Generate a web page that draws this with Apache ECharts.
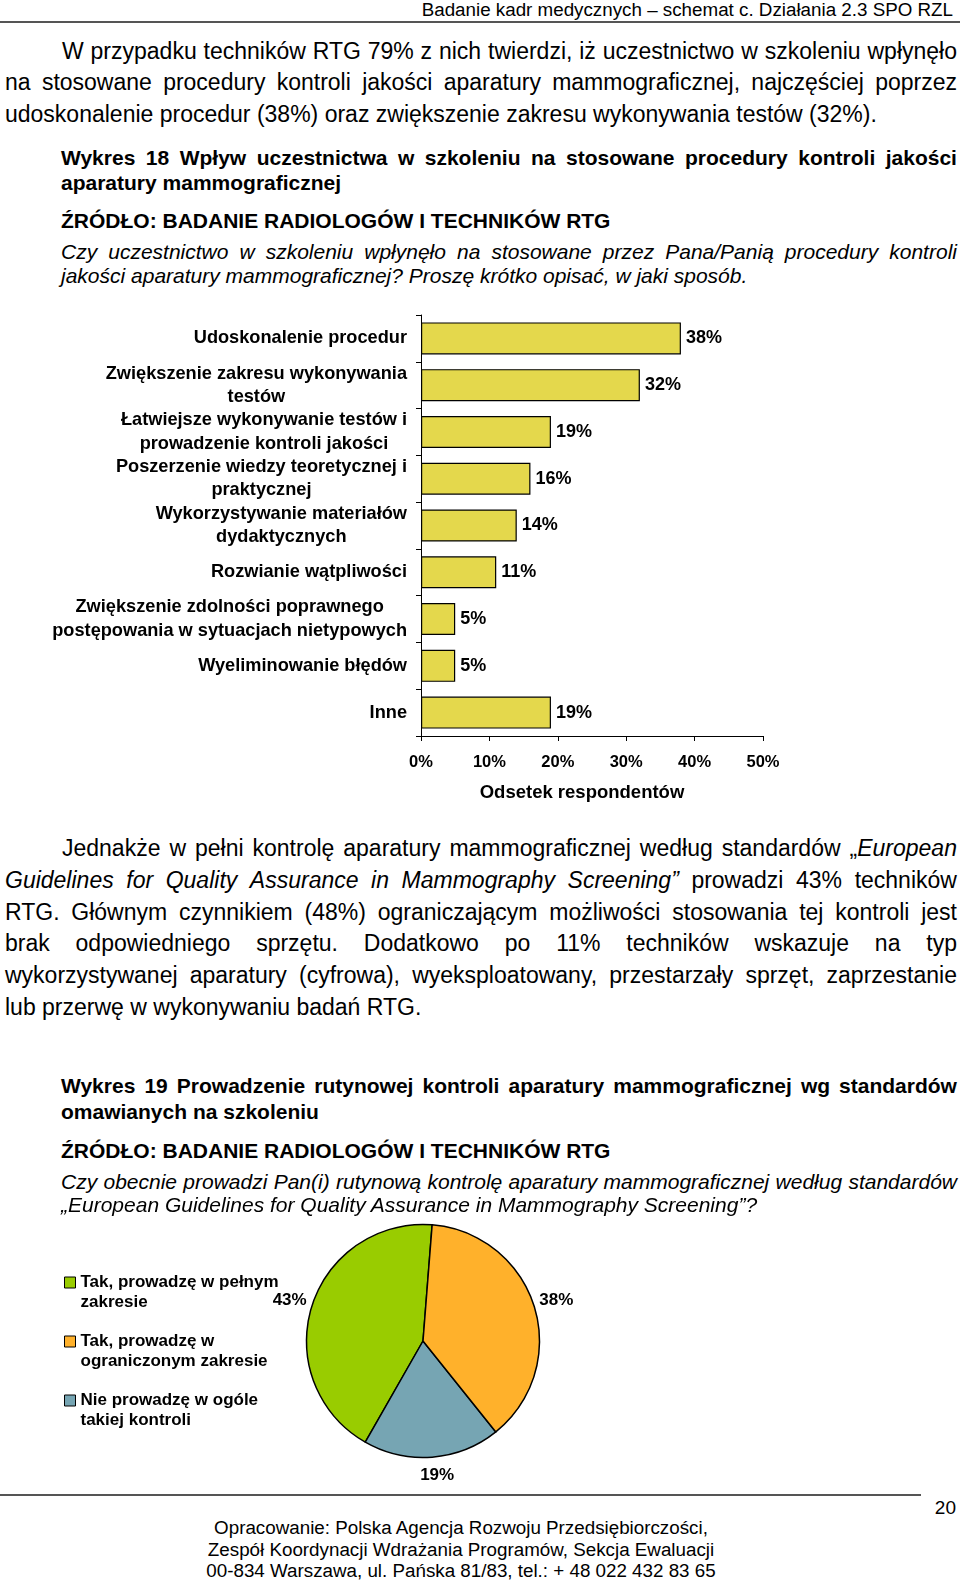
<!DOCTYPE html>
<html>
<head>
<meta charset="utf-8">
<script src="https://cdn.jsdelivr.net/npm/echarts@6/dist/echarts.min.js"></script>
<style>
body{margin:0;width:960px;height:1581px;position:relative;background:#fff;overflow:hidden;
  font-family:"Liberation Sans",Arial,sans-serif;color:#000}
.ln{position:absolute;white-space:nowrap}
.rule{position:absolute;height:2px;background:#555}
</style>
</head>
<body>
<div class="rule" style="left:0;top:21px;width:960px"></div>
<div class="rule" style="left:0;top:1494px;width:921px"></div>
<div id="bar" style="position:absolute;left:0;top:300px;width:960px;height:510px"></div>
<div id="pie" style="position:absolute;left:0;top:1215px;width:960px;height:275px"></div>
<script>
// Wykres 18 - dane
var barCats = [
  'Udoskonalenie procedur',
  'Zwiększenie zakresu wykonywania\ntestów',
  'Łatwiejsze wykonywanie testów i\nprowadzenie kontroli jakości',
  'Poszerzenie wiedzy teoretycznej i\npraktycznej',
  'Wykorzystywanie materiałów\ndydaktycznych',
  'Rozwianie wątpliwości',
  'Zwiększenie zdolności poprawnego\npostępowania w sytuacjach nietypowych',
  'Wyeliminowanie błędów',
  'Inne'
];
var barVals = [38, 32, 19, 16, 14, 11, 5, 5, 19];
var xTicks = [0, 10, 20, 30, 40, 50];

// Wykres 19 - dane (kolejnosc jak w legendzie)
var pieNames = ['Tak, prowadzę w pełnym\nzakresie', 'Tak, prowadzę w\nograniczonym zakresie', 'Nie prowadzę w ogóle\ntakiej kontroli'];
var pieVals = [43, 38, 19];
var pieColors = ['#99cc00', '#ffb12b', '#76a5b3'];
var pieOrder = [0, 2, 1]; // kolejnosc rysowania wycinkow (przeciwnie do wskazowek)

var FONT = '"Liberation Sans", Arial, sans-serif';

// teksty strony: y = srodek linii, j = wyjustowana
var lines = [
  {y:10, r:953, s:18.8, t:'Badanie kadr medycznych – schemat c. Działania 2.3 SPO RZL'},

  {y:50.5, x:62, w:895, s:23, j:1, t:'W przypadku techników RTG 79% z nich twierdzi, iż uczestnictwo w szkoleniu wpłynęło'},
  {y:82, x:5, w:952, s:23, j:1, t:'na stosowane procedury kontroli jakości aparatury mammograficznej, najczęściej poprzez'},
  {y:113.7, x:5, s:23, t:'udoskonalenie procedur (38%) oraz zwiększenie zakresu wykonywania testów (32%).'},

  {y:157, x:61, w:896, s:21, b:1, j:1, t:'Wykres 18 Wpływ uczestnictwa w szkoleniu na stosowane procedury kontroli jakości'},
  {y:182, x:61, s:21, b:1, t:'aparatury mammograficznej'},
  {y:220, x:61, s:21, b:1, t:'ŹRÓDŁO: BADANIE RADIOLOGÓW I TECHNIKÓW RTG'},
  {y:251.5, x:61, w:896, s:21, i:1, j:1, t:'Czy uczestnictwo w szkoleniu wpłynęło na stosowane przez Pana/Panią procedury kontroli'},
  {y:275, x:61, s:21, i:1, t:'jakości aparatury mammograficznej? Proszę krótko opisać, w jaki sposób.'},

  {y:848, x:62, w:895, s:23, j:1, t:'Jednakże w pełni kontrolę aparatury mammograficznej według standardów „{European}'},
  {y:880, x:5, w:952, s:23, j:1, t:'{Guidelines for Quality Assurance in Mammography Screening”} prowadzi 43% techników'},
  {y:911.5, x:5, w:952, s:23, j:1, t:'RTG. Głównym czynnikiem (48%) ograniczającym możliwości stosowania tej kontroli jest'},
  {y:943, x:5, w:952, s:23, j:1, t:'brak odpowiedniego sprzętu. Dodatkowo po 11% techników wskazuje na typ'},
  {y:975, x:5, w:952, s:23, j:1, t:'wykorzystywanej aparatury (cyfrowa), wyeksploatowany, przestarzały sprzęt, zaprzestanie'},
  {y:1006.5, x:5, s:23, t:'lub przerwę w wykonywaniu badań RTG.'},

  {y:1085.5, x:61, w:896, s:21, b:1, j:1, t:'Wykres 19 Prowadzenie rutynowej kontroli aparatury mammograficznej wg standardów'},
  {y:1111, x:61, s:21, b:1, t:'omawianych na szkoleniu'},
  {y:1150, x:61, s:21, b:1, t:'ŹRÓDŁO: BADANIE RADIOLOGÓW I TECHNIKÓW RTG'},
  {y:1181, x:61, w:896, s:21, i:1, j:1, t:'Czy obecnie prowadzi Pan(i) rutynową kontrolę aparatury mammograficznej według standardów'},
  {y:1204.5, x:61, s:21, i:1, t:'„European Guidelines for Quality Assurance in Mammography Screening”?'},

  {y:1507, r:956, s:19, t:'20'},
  {y:1528, c:461, s:18.8, t:'Opracowanie: Polska Agencja Rozwoju Przedsiębiorczości,'},
  {y:1550, c:461, s:18.8, t:'Zespół Koordynacji Wdrażania Programów, Sekcja Ewaluacji'},
  {y:1571, c:461, s:18.8, t:'00-834 Warszawa, ul. Pańska 81/83, tel.: + 48 022 432 83 65'}
];

// {..} = kursywa
function mark(tok, st){
  var out = '', buf = '';
  for (var k = 0; k < tok.length; k++) {
    var ch = tok.charAt(k);
    if (ch == '{' || ch == '}') {
      if (buf) out += st.it ? '<i>' + buf + '</i>' : buf;
      buf = '';
      st.it = (ch == '{');
    } else buf += ch;
  }
  if (buf) out += st.it ? '<i>' + buf + '</i>' : buf;
  return out;
}

lines.forEach(function(o){
  var d = document.createElement('div');
  var lh = Math.round(o.s * 1.3);
  d.className = 'ln';
  d.style.top = (o.y - lh / 2) + 'px';
  d.style.height = lh + 'px';
  d.style.lineHeight = lh + 'px';
  d.style.fontSize = o.s + 'px';
  if (o.b) d.style.fontWeight = 'bold';
  if (o.i) d.style.fontStyle = 'italic';
  var st = {it: false};
  if (o.j) {
    d.style.left = o.x + 'px';
    d.style.width = o.w + 'px';
    d.style.display = 'flex';
    d.style.justifyContent = 'space-between';
    d.innerHTML = o.t.split(' ').map(function(w){ return '<span>' + mark(w, st) + '</span>'; }).join('');
  } else {
    d.innerHTML = mark(o.t, st);
    if (o.r) { d.style.right = (960 - o.r) + 'px'; }
    else if (o.c) { d.style.left = '0'; d.style.width = (2 * o.c) + 'px'; d.style.textAlign = 'center'; }
    else d.style.left = o.x + 'px';
  }
  document.body.appendChild(d);
});

// Wykres 18
var barChart = echarts.init(document.getElementById('bar'));
barChart.setOption({
  animation: false,
  grid: {left: 421, top: 15, width: 342, height: 421, containLabel: false, outerBoundsMode: 'none'},
  xAxis: {
    type: 'value',
    min: xTicks[0],
    max: xTicks[xTicks.length - 1],
    interval: xTicks[1] - xTicks[0],
    splitLine: {show: false},
    axisLine: {show: true, lineStyle: {color: '#000', width: 1}},
    axisTick: {show: true, length: 5, lineStyle: {color: '#000'}},
    axisLabel: {formatter: '{value}%', margin: 18, color: '#000', fontSize: 16.5, fontWeight: 'bold', fontFamily: FONT},
    name: 'Odsetek respondentów',
    nameLocation: 'middle',
    nameGap: 47,
    nameTextStyle: {color: '#000', fontSize: 18.5, fontWeight: 'bold', fontFamily: FONT, padding: [0, 20, 0, 0]}
  },
  yAxis: {
    type: 'category',
    inverse: true,
    data: barCats,
    axisLine: {show: true, lineStyle: {color: '#000', width: 1}},
    axisTick: {show: true, length: 5, lineStyle: {color: '#000'}},
    splitLine: {show: false},
    axisLabel: {
      margin: 14,
      color: '#000',
      fontSize: 18.2,
      fontWeight: 'bold',
      fontFamily: FONT,
      formatter: function(v){
        return v.split('\n').map(function(s){ return '{c|' + s + '}'; }).join('\n');
      },
      rich: {c: {align: 'center', color: '#000', fontSize: 18.2, fontWeight: 'bold', fontFamily: FONT, lineHeight: 23.3}}
    }
  },
  series: [{
    type: 'bar',
    data: barVals,
    barWidth: 32,
    itemStyle: {color: '#e4d84c', borderColor: '#000', borderWidth: 1.2},
    label: {show: true, position: 'right', distance: 5, formatter: '{c}%', color: '#000', fontSize: 18, fontWeight: 'bold', fontFamily: FONT}
  }]
});

// Wykres 19
var pieChart = echarts.init(document.getElementById('pie'));
var pieData = pieOrder.map(function(k){
  return {name: pieNames[k], value: pieVals[k], itemStyle: {color: pieColors[k]}};
});
pieChart.setOption({
  animation: false,
  legend: {
    orient: 'vertical',
    left: 64,
    top: 57,
    padding: 0,
    itemWidth: 11,
    itemHeight: 40,
    itemGap: 18,
    // kwadrat przy pierwszej linii opisu
    icon: 'path://M0,4.5L11,4.5L11,15.5L0,15.5Z M0,0L0,0 M11,40L11,40',
    selectedMode: false,
    data: pieNames,
    itemStyle: {borderColor: '#000', borderWidth: 1},
    textStyle: {color: '#000', fontSize: 17, fontWeight: 'bold', fontFamily: FONT, lineHeight: 20}
  },
  series: [{
    type: 'pie',
    center: [423, 126],
    radius: 116.5,
    clockwise: false,
    startAngle: 85.5,
    avoidLabelOverlap: false,
    data: pieData,
    itemStyle: {borderColor: '#000', borderWidth: 1.5},
    label: {show: true, position: 'outside', formatter: '{c}%', distanceToLabelLine: 5,
      color: '#000', fontSize: 17, fontWeight: 'bold', fontFamily: FONT},
    labelLine: {show: false, length: 0, length2: 0},
    labelLayout: function(p){
      if (pieData[p.dataIndex].value === pieVals[2]) return {align: 'center', dy: 18};
      return {dy: -6};
    }
  }]
});
</script>
</body>
</html>
